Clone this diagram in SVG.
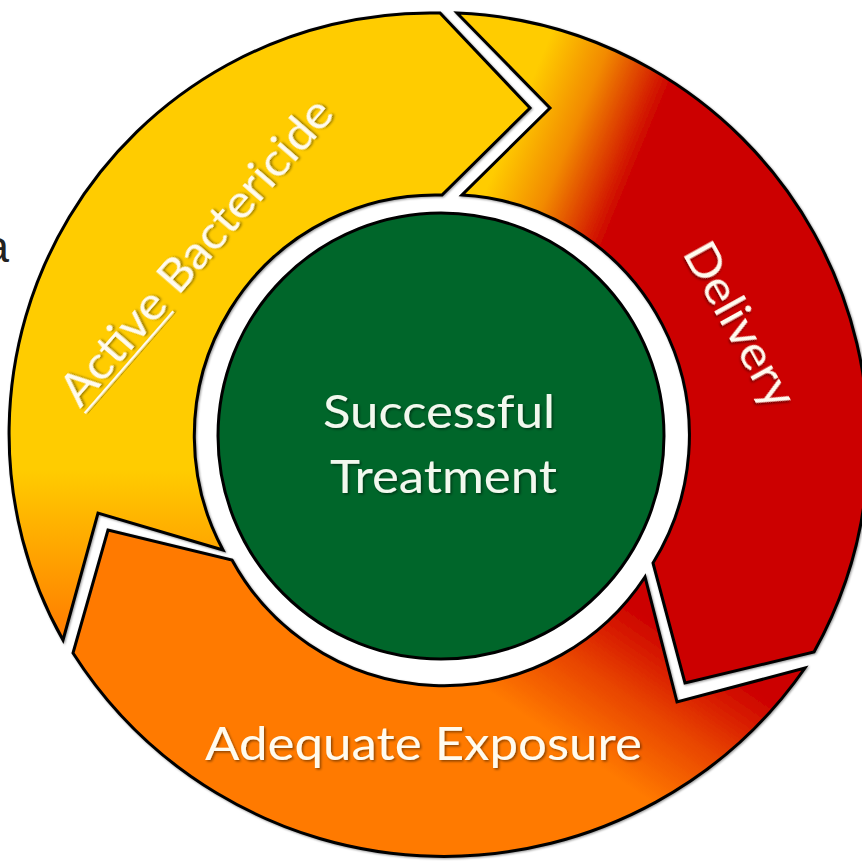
<svg xmlns="http://www.w3.org/2000/svg" width="862" height="868" viewBox="0 0 862 868">
  <defs>
    <linearGradient id="gYellow" gradientUnits="userSpaceOnUse" x1="0" y1="470" x2="0" y2="645">
      <stop offset="0" stop-color="#FFCC00"/>
      <stop offset="1" stop-color="#FF7800"/>
    </linearGradient>
    <linearGradient id="gRed" gradientUnits="userSpaceOnUse" x1="540" y1="60" x2="660" y2="110">
      <stop offset="0" stop-color="#FFCC00"/>
      <stop offset="0.45" stop-color="#F28A00"/>
      <stop offset="1" stop-color="#CC0000"/>
    </linearGradient>
    <linearGradient id="gOrange" gradientUnits="userSpaceOnUse" x1="560" y1="740" x2="645" y2="615">
      <stop offset="0" stop-color="#FF7A00"/>
      <stop offset="0.5" stop-color="#E84400"/>
      <stop offset="1" stop-color="#CC0000"/>
    </linearGradient>
    <filter id="ts" x="-20%" y="-40%" width="140%" height="180%">
      <feDropShadow dx="1.5" dy="1.5" stdDeviation="1.2" flood-color="#000" flood-opacity="0.45"/>
    </filter>
    <filter id="ss" x="-10%" y="-10%" width="120%" height="120%">
      <feDropShadow dx="1" dy="1" stdDeviation="1" flood-color="#000" flood-opacity="0.4"/>
    </filter>
  </defs>
  <style>
    .arrow { stroke: #000; stroke-width: 3; stroke-linejoin: miter; filter: url(#ss); }
    .lbl { font-family: Lato, "Open Sans", "Liberation Sans", sans-serif; font-size: 47px; fill: #FFFBEF; filter: url(#ts); }
    .clbl { font-family: Lato, "Open Sans", "Liberation Sans", sans-serif; font-size: 47px; fill: #F2F8EE; filter: url(#ts); }
    .side { font-family: "Liberation Sans", Arial, sans-serif; font-size: 44px; fill: #222222; }
  </style>
  <rect width="862" height="868" fill="#FFFFFF"/>
  <text class="side" x="9" y="262" text-anchor="end">a</text>

  <g id="arrow-active-bactericide">
    <path class="arrow" fill="url(#gYellow)" d="M63,640 A421,421 0 0 1 440,13 L530,108 L442,195 A241,241 0 0 0 223,550 L98,513 Z"/>
    <g transform="translate(208,262) rotate(-49)">
      <text class="lbl" x="0" y="0" text-anchor="middle" textLength="390" lengthAdjust="spacingAndGlyphs">Active Bactericide</text>
      <rect x="-195" y="5" width="135" height="2.5" fill="#FFFBEF" filter="url(#ts)"/>
    </g>
  </g>

  <g id="arrow-delivery">
    <path class="arrow" fill="url(#gRed)" d="M457,13 A430,430 0 0 1 814,652 L685,683 L653,563 A241,241 0 0 0 462,195 L550,108 Z"/>
    <g transform="translate(739,325) rotate(61)">
      <text class="lbl" x="0" y="15" text-anchor="middle" textLength="182" lengthAdjust="spacingAndGlyphs">Delivery</text>
    </g>
  </g>

  <g id="arrow-adequate-exposure">
    <path class="arrow" fill="url(#gOrange)" d="M805,668 A440,440 0 0 1 73,653 L108,530 L232,560 A241,241 0 0 0 645,577 L677,702 Z"/>
    <text class="lbl" x="423.5" y="760" text-anchor="middle" textLength="437" lengthAdjust="spacingAndGlyphs">Adequate Exposure</text>
  </g>

  <g id="node-successful-treatment">
    <circle cx="441" cy="436" r="223" fill="#00662A" stroke="#000" stroke-width="3"/>
    <text class="clbl" x="439" y="428" text-anchor="middle" textLength="232" lengthAdjust="spacingAndGlyphs">Successful</text>
    <text class="clbl" x="443.5" y="493" text-anchor="middle" textLength="227" lengthAdjust="spacingAndGlyphs">Treatment</text>
  </g>

  <g id="connectors"/>
</svg>
